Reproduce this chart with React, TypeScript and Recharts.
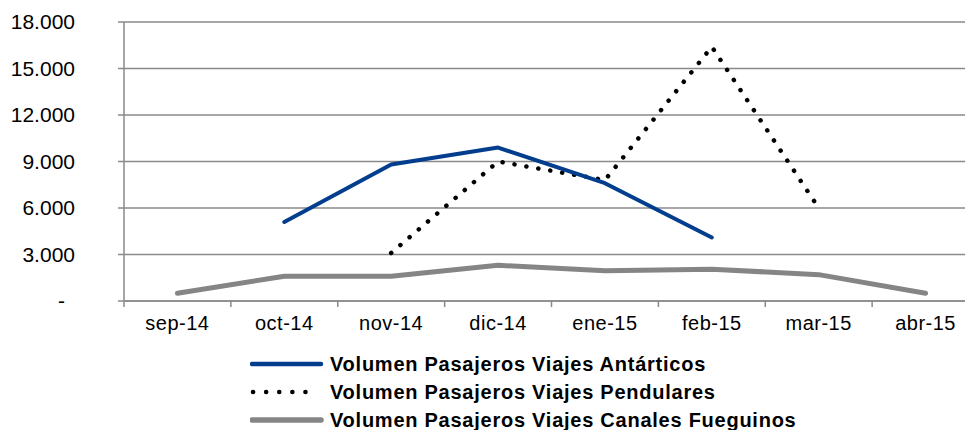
import React from 'react'
import { CartesianGrid, Line, LineChart, XAxis, YAxis } from 'recharts'

const months = ['sep-14', 'oct-14', 'nov-14', 'dic-14', 'ene-15', 'feb-15', 'mar-15', 'abr-15']
const antarticos = [null, 5100, 8800, 9900, 7600, 4100, null, null]
const pendulares = [null, null, 3100, 9000, 7800, 16400, 6000, null]
const fueguinos = [500, 1600, 1600, 2300, 1950, 2050, 1700, 500]
const yTicks = [0, 3000, 6000, 9000, 12000, 15000, 18000]

const seriesNames = [
  'Volumen Pasajeros Viajes Antárticos',
  'Volumen Pasajeros Viajes Pendulares',
  'Volumen Pasajeros Viajes Canales Fueguinos',
]

const data = months.map((m, i) => ({
  month: m,
  antarticos: antarticos[i],
  pendulares: pendulares[i],
  fueguinos: fueguinos[i],
}))

const FONT = '"Liberation Sans", Arial, sans-serif'
const BAND = 106.86

function fmt(v: number) {
  if (v === 0) return '-'
  return v.toLocaleString('de-DE')
}

function YTick(props: any) {
  const { y, payload } = props
  const v = payload.value
  return (
    <text
      x={v === 0 ? 65 : 75}
      y={y}
      dy={7}
      textAnchor="end"
      fontSize={21}
      fontFamily={FONT}
      fill="#000"
    >
      {fmt(v)}
    </text>
  )
}

function LegendRow({ kind, label }: { kind: string; label: string }) {
  return (
    <div style={{ display: 'flex', alignItems: 'center', height: 28 }}>
      <svg width={80} height={10}>
        {kind === 'dot' ? (
          <line x1={3} y1={5} x2={68} y2={5} stroke="#000" strokeWidth={4.5} strokeLinecap="round" strokeDasharray="0.1 13" />
        ) : (
          <line
            x1={2}
            y1={5}
            x2={71}
            y2={5}
            stroke={kind === 'blue' ? '#033e8e' : '#858585'}
            strokeWidth={kind === 'blue' ? 4.5 : 5.5}
            strokeLinecap="round"
          />
        )}
      </svg>
      <span
        style={{
          fontWeight: 'bold',
          fontSize: 20,
          fontFamily: FONT,
          color: '#000',
          lineHeight: '28px',
          letterSpacing: 0.75,
        }}
      >
        {label}
      </span>
    </div>
  )
}

export default function App() {
  return (
    <div
      style={{
        position: 'fixed',
        left: 0,
        top: 0,
        width: 965,
        height: 430,
        overflow: 'hidden',
        background: '#fff',
      }}
    >
      <LineChart width={991} height={430} data={data} margin={{ top: 22, right: 12, left: 0, bottom: 95 }}>
        <CartesianGrid vertical={false} stroke="#8a8a8a" strokeWidth={1.5} />
        <XAxis
          dataKey="month"
          stroke="#8a8a8a"
          strokeWidth={1.5}
          tickSize={6}
          interval={0}
          height={34}
          padding={{ left: BAND / 2, right: BAND / 2 }}
          tick={{ fill: '#000', fontSize: 20, fontFamily: FONT, dy: 7, letterSpacing: 0.5 }}
          tickLine={{ stroke: '#8a8a8a', transform: `translate(${-BAND / 2},0)` }}
        />
        <YAxis
          width={124}
          domain={[0, 18000]}
          ticks={yTicks}
          stroke="#8a8a8a"
          strokeWidth={1.5}
          tickSize={6}
          tick={<YTick />}
        />
        <Line
          dataKey="fueguinos"
          stroke="#858585"
          strokeWidth={5}
          dot={false}
          isAnimationActive={false}
          strokeLinecap="round"
          strokeLinejoin="round"
        />
        <Line
          dataKey="pendulares"
          stroke="#000"
          strokeWidth={4.5}
          strokeDasharray="0.1 12"
          strokeLinecap="round"
          dot={false}
          isAnimationActive={false}
        />
        <Line
          dataKey="antarticos"
          stroke="#033e8e"
          strokeWidth={4}
          dot={false}
          isAnimationActive={false}
          strokeLinecap="round"
          strokeLinejoin="round"
        />
      </LineChart>
      <div style={{ position: 'absolute', left: 250, top: 350 }}>
        <LegendRow kind="blue" label={seriesNames[0]} />
        <LegendRow kind="dot" label={seriesNames[1]} />
        <LegendRow kind="gray" label={seriesNames[2]} />
      </div>
    </div>
  )
}
